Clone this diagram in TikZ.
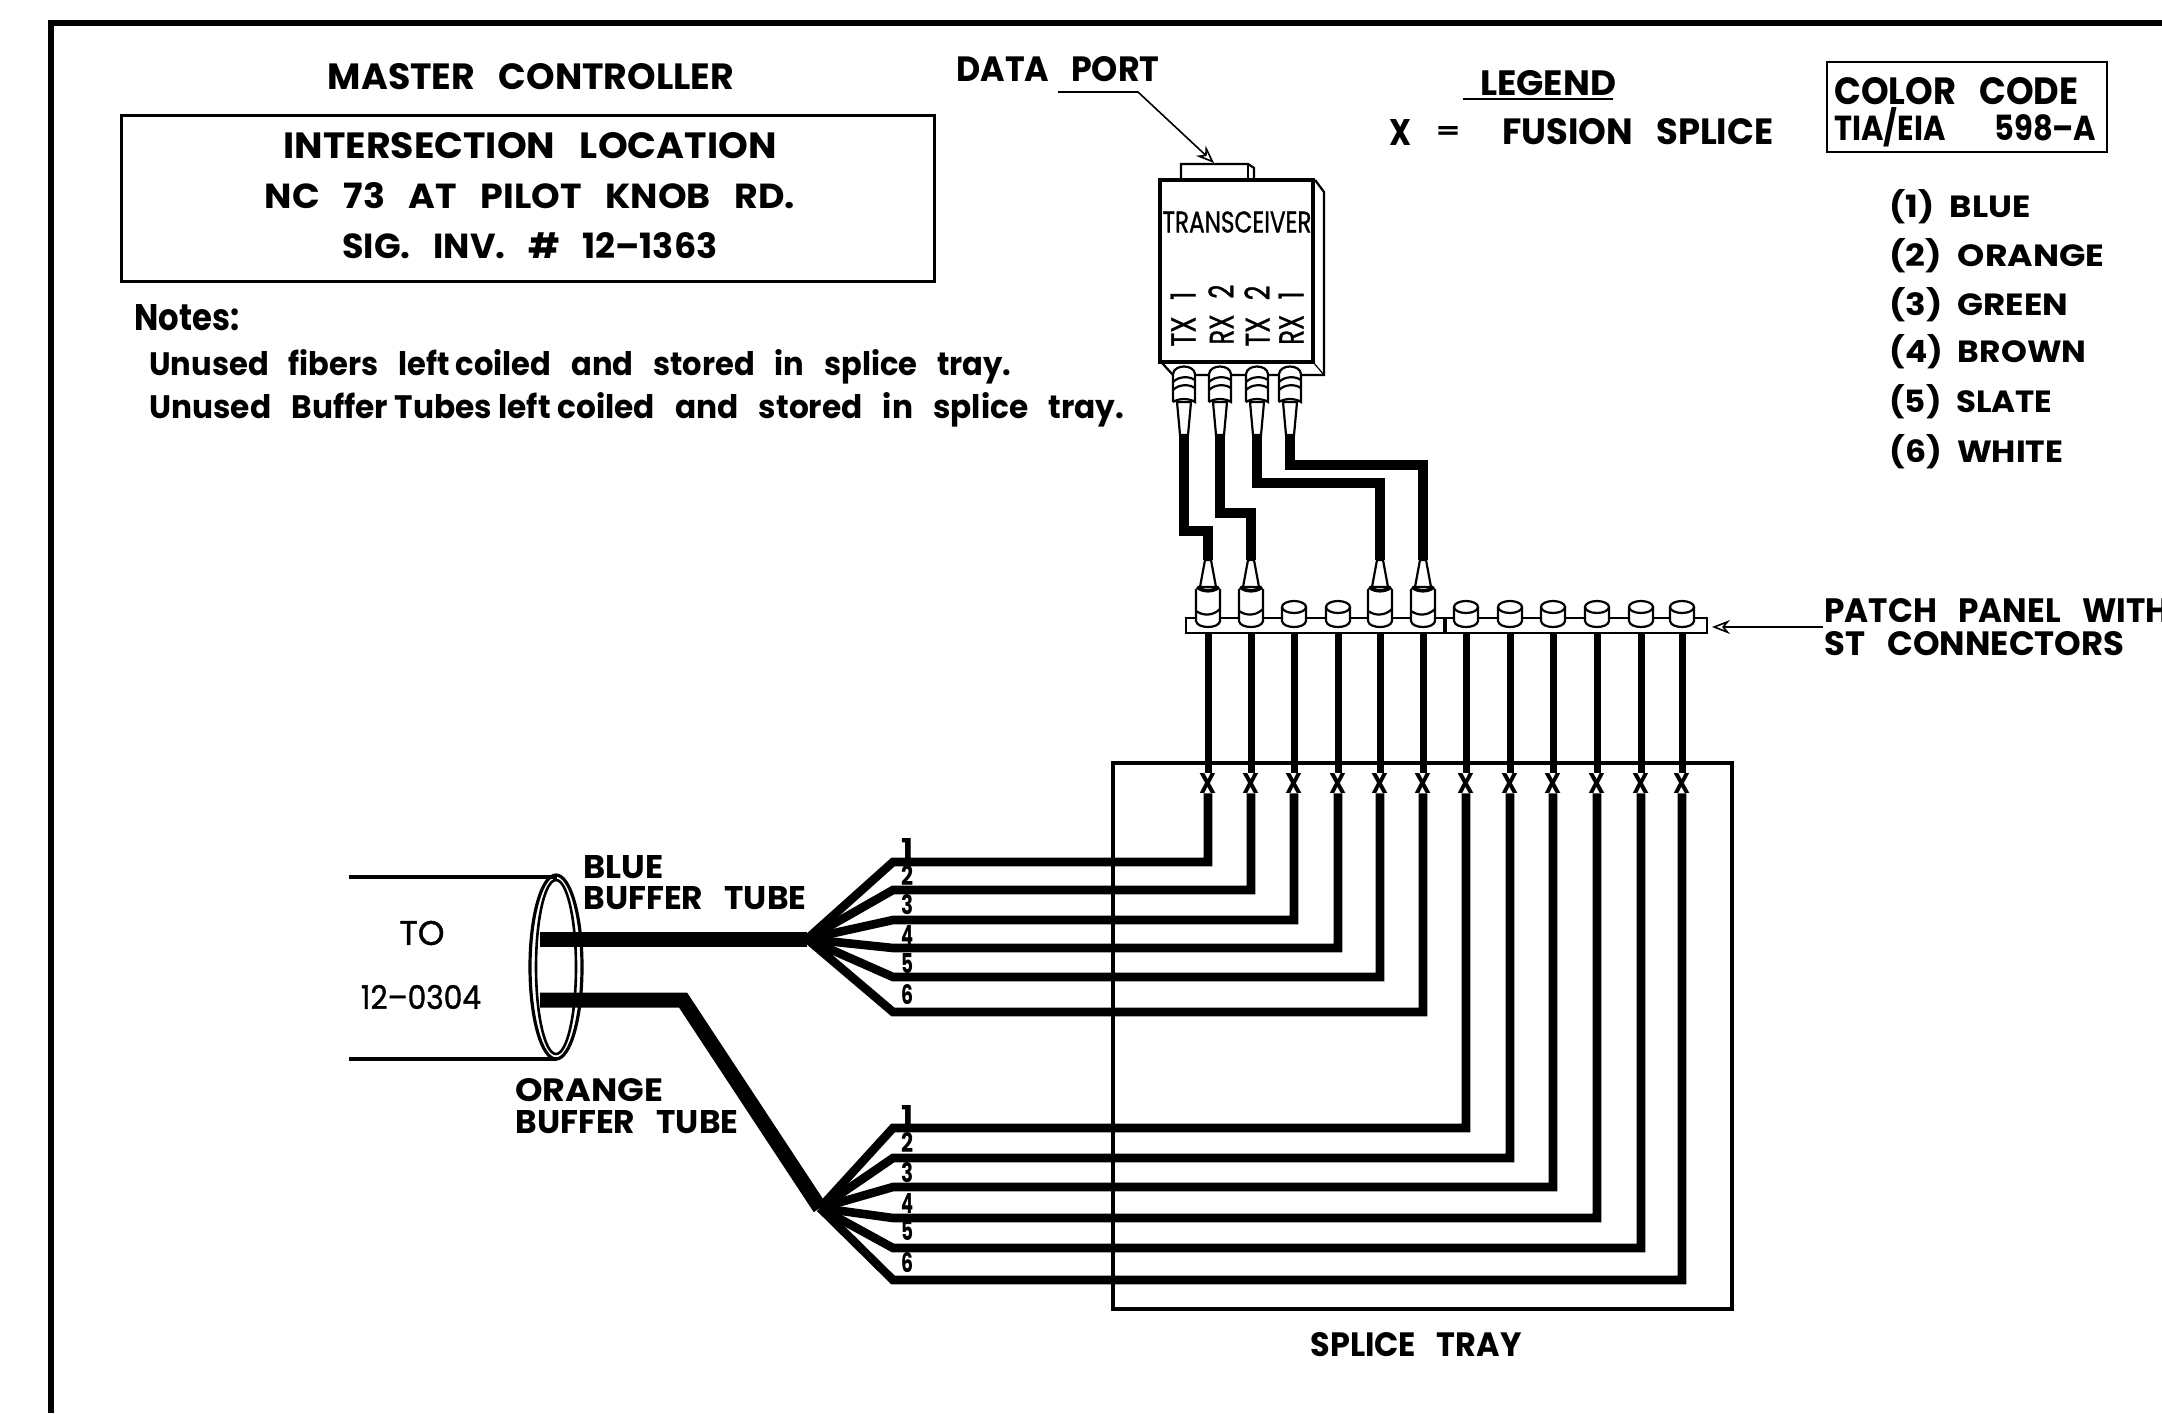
\documentclass[tikz,border=0pt]{standalone}
\usepackage{fontspec}
\usepackage{graphicx}
\setmainfont{Poppins}
\newfontface\medfont{Poppins}[FakeBold=1.2]
\usetikzlibrary{arrows.meta}
\newcommand\fitt[3]{\resizebox{\dimexpr#1pt/2\relax}{\dimexpr#2pt/2\relax}{#3}}
\newcommand\gap{\hspace{.65em}}
\tikzset{
  lbl/.style={inner sep=0pt,font=\bfseries},
  thin lbl/.style={inner sep=0pt,font=\medfont},
  wire/.style={line width=3.5pt,black},
  fiber/.style={line width=4.3pt,black,miter limit=20},
  patchcord/.style={line width=4.8pt,black},
  tube/.style={line width=7.5pt,black},
  outline/.style={line width=1.1pt,black},
  leader/.style={line width=.8pt,black,-{Stealth[open,length=9pt,width=7pt]}},
  panelcap/.pic={
    \draw[outline,fill=white] (-12,-21) -- (-12,-7) .. controls (-11,1) and (11,1) .. (12,-7) -- (12,-21);
    \draw[outline,fill=white] (0,-21) circle[x radius=12,y radius=6];
  },
  panelplug/.pic={
    \draw[outline,fill=white] (-8,-41) -- (-3,-68) -- (3,-68) -- (8,-41) -- cycle;
    \draw[outline,fill=white] (-12,-39) -- (-12,-7) .. controls (-11,1) and (11,1) .. (12,-7) -- (12,-39);
    \draw[line width=1.8pt] (-11,-41) .. controls (-5,-36) and (5,-36) .. (11,-41);
    \draw[outline] (-12,-17) .. controls (-5,-12) and (5,-12) .. (12,-19);
  },
  trxplug/.pic={
    \draw[outline,fill=white] (-7,37) -- (-4,70) -- (4,70) -- (7,37) -- cycle;
    \draw[outline,fill=white] (-11,37) -- (-11,9) .. controls (-10,-1) and (10,-1) .. (11,9) -- (11,37) .. controls (5,33) and (-5,33) .. (-11,37);
    \draw[outline] (-11,17) .. controls (-5,11) and (5,11) .. (11,15);
    \draw[outline] (-11,25) .. controls (-5,19) and (5,19) .. (11,23);
  },
}
\begin{document}
\begin{tikzpicture}[x=.5pt,y=-.5pt,line join=miter]
\useasboundingbox (0,0) rectangle (2162,1413);
\fill[white] (0,0) rectangle (2162,1413);

% frame
\draw[line width=3.2pt] (51,1413) -- (51,23) -- (2162,23);

% header
\node[lbl] (title) at (531,77) {\fitt{406}{26}{MASTER\gap CONTROLLER}};
\draw[line width=1.5pt] (121,116) rectangle (934,281);
\node[lbl] (loc1) at (530,146) {\fitt{493}{26}{INTERSECTION\gap LOCATION}};
\node[lbl] (loc2) at (530,196) {\fitt{530}{26}{NC\gap 73\gap AT\gap PILOT\gap KNOB\gap RD.}};
\node[lbl] (loc3) at (530,246) {\fitt{375}{26}{SIG.\gap INV.\gap \#\gap 12–1363}};
\node[lbl,anchor=base west] (notes) at (134,330) {\fitt{105}{26}{Notes:}};
\node[lbl,anchor=base west] (note1) at (149,375) {\fitt{862}{26}{Unused\gap fibers\gap left coiled\gap and\gap stored\gap in\gap splice\gap tray.}};
\node[lbl,anchor=base west] (note2) at (149,418) {\fitt{975}{26}{Unused\gap Buffer Tubes\ left coiled\gap and\gap stored\gap in\gap splice\gap tray.}};

% data port
\node[lbl] (dataport) at (1058,69) {\fitt{203}{25}{DATA\gap PORT}};
\coordinate (dp1) at (1058,92);
\coordinate (dp2) at (1138,92);
\coordinate (dp3) at (1214,163);
\draw[leader] (dp1) -- (dp2) -- (dp3);

% legend
\node[lbl] (legend) at (1548,83) {\fitt{136}{25}{LEGEND}};
\coordinate (lg1) at (1463,99);
\coordinate (lg2) at (1613,99);
\draw[line width=1pt] (lg1) -- (lg2);
\node[lbl] (legx) at (1400,132) {\fitt{22}{26}{X}};
\node[lbl] (legeq) at (1448,133) {\fitt{24}{12}{=}};
\node[lbl,anchor=west] (legfs) at (1502,132) {\fitt{271}{26}{FUSION\gap SPLICE}};

% colour code
\draw[line width=1.2pt] (1827,62) rectangle (2107,152);
\node[lbl,anchor=west] (cc1) at (1834,91) {\fitt{244}{27}{COLOR\gap CODE}};
\node[lbl,anchor=west] (cc2) at (1834,127) {\fitt{262}{33}{TIA/EIA\hspace{1.6em}598–A}};
\foreach \n/\yy/\w/\t in {1/205/141/BLUE,2/254/215/ORANGE,3/303/179/GREEN,4/350/197/BROWN,5/400/163/SLATE,6/450/174/WHITE}
  \node[lbl,anchor=base west] (code\n) at (1889,\yy+12) {\fitt{\w}{28}{(\n)\hspace{.45em}\t}};

% splice tray
\draw[line width=2pt] (1113,763) rectangle (1732,1309);
\node[lbl] (traylbl) at (1416,1345) {\fitt{211}{24}{SPLICE\gap TRAY}};

% patch panel coordinates and splices
\foreach \n/\xx in {1/1208,2/1251,3/1294,4/1338,5/1380,6/1423,7/1466,8/1510,9/1553,10/1597,11/1641,12/1682}{
  \coordinate (pb\n) at (\xx,633);
  \coordinate (pf\n) at (\xx,628);
  \node[lbl] (sp\n) at (\xx,783) {\fitt{17}{20}{X}};
  \draw[wire] (pb\n) -- (sp\n.north);
}

% fibre fans
\coordinate (fanA) at (807,939);
\coordinate (fanB) at (820,1208);
\foreach \n/\yy in {1/862,2/890,3/920,4/948,5/977,6/1012}{
  \coordinate (ka\n) at (893,\yy);
  \draw[fiber] (fanA) -- (ka\n) -| (sp\n.south);
}
\foreach \k/\n/\yy in {1/7/1128,2/8/1158,3/9/1187,4/10/1218,5/11/1248,6/12/1280}{
  \coordinate (kb\k) at (893,\yy);
  \draw[fiber] (fanB) -- (kb\k) -| (sp\n.south);
}
\foreach \n/\yy in {1/848,2/875,3/905,4/935,5/963,6/995}
  \node[lbl] (na\n) at (907,\yy) {\fitt{12}{20}{\n}};
\foreach \n/\yy in {1/1115,2/1142,3/1173,4/1203,5/1230,6/1263}
  \node[lbl] (nb\n) at (907,\yy) {\fitt{12}{20}{\n}};

% patch panel
\draw[line width=1.1pt,fill=white] (1186,618) rectangle (1707,633);
\draw[line width=2pt] (1445,617) -- (1445,632);
\coordinate (arrowstart) at (1823,627);
\coordinate (arrowend) at (1712,627);
\draw[leader] (arrowstart) -- (arrowend);
\node[lbl,anchor=west] (pp1) at (1824,611) {\fitt{345}{24}{PATCH\gap PANEL\gap WITH}};
\node[lbl,anchor=west] (pp2) at (1824,644) {\fitt{300}{24}{ST\gap CONNECTORS}};
\foreach \n in {3,4,7,8,9,10,11,12} \pic at (pf\n) {panelcap};

% transceiver
\draw[outline,fill=white] (1181,180) -- (1181,164) -- (1248,164) -- (1254,168) -- (1254,180);
\draw[line width=.6pt] (1248,164) -- (1248,180);
\draw[outline] (1315,180) -- (1324,192) -- (1324,375) -- (1173,375) -- (1162,363);
\draw[line width=.6pt] (1313,362) -- (1324,375);
\draw[line width=2pt,fill=white] (1160,180) rectangle (1313,362);
\node[thin lbl] (trx) at (1237,222) {\fitt{149}{21}{TRANSCEIVER}};
\node[thin lbl,rotate=90,anchor=west] (t1) at (1183,347) {\fitt{55}{25}{TX\gap 1}};
\node[thin lbl,rotate=90,anchor=west] (t2) at (1221,345) {\fitt{60}{25}{RX\gap 2}};
\node[thin lbl,rotate=90,anchor=west] (t3) at (1257,347) {\fitt{61}{25}{TX\gap 2}};
\node[thin lbl,rotate=90,anchor=west] (t4) at (1291,345) {\fitt{53}{25}{RX\gap 1}};

% transceiver plugs and patch cords
\foreach \n/\xx in {1/1184,2/1220,3/1257,4/1290}{
  \coordinate (tp\n) at (\xx,365);
  \coordinate (tc\n) at (\xx,434);
}
\foreach \n in {1,2,3,4} \pic at (tp\n) {trxplug};
\coordinate (pt1) at (1208,560);
\coordinate (pt2) at (1251,560);
\coordinate (pt5) at (1380,560);
\coordinate (pt6) at (1423,560);
\draw[patchcord] (tc1) |- (1208,531) -- (pt1);
\draw[patchcord] (tc2) |- (1251,513) -- (pt2);
\draw[patchcord] (tc3) |- (1380,483) -- (pt5);
\draw[patchcord] (tc4) |- (1423,465) -- (pt6);
\foreach \n in {1,2,5,6} \pic at (pf\n) {panelplug};

% cable end
\node[thin lbl] (to1) at (422,933) {\fitt{45}{24}{TO}};
\node[thin lbl] (to2) at (421,997) {\fitt{120}{24}{12–0304}};
\draw[line width=1.8pt] (349,877) -- (557,877);
\draw[line width=1.8pt] (349,1059) -- (557,1059);
\coordinate (tb0) at (540,939);
\coordinate (to0) at (540,1000);
\coordinate (to3) at (683,1000);
\draw[tube] (tb0) -- (fanA);
\draw[tube] (to0) -- (to3) -- (fanB);
\draw[line width=1.6pt] (556,967) circle[x radius=26,y radius=92];
\draw[line width=1.3pt] (556,967) circle[x radius=20,y radius=87];

\node[lbl,anchor=west] (bl1) at (583,867) {\fitt{80}{23}{BLUE}};
\node[lbl,anchor=west] (bl2) at (583,898) {\fitt{223}{23}{BUFFER\gap TUBE}};
\node[lbl,anchor=west] (or1) at (515,1090) {\fitt{148}{23}{ORANGE}};
\node[lbl,anchor=west] (or2) at (515,1122) {\fitt{223}{23}{BUFFER\gap TUBE}};
\end{tikzpicture}
\end{document}
